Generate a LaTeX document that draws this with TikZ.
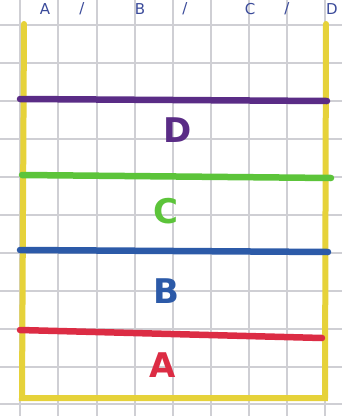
\documentclass[tikz,border=0pt]{standalone}
\usepackage{fontspec}
\setmainfont{DejaVu Sans}
\definecolor{gridc}{HTML}{CFCFD4}
\definecolor{yel}{HTML}{E6D23A}
\definecolor{pur}{HTML}{5A2C86}
\definecolor{grn}{HTML}{5CC43A}
\definecolor{blu}{HTML}{2C5AA8}
\definecolor{rd}{HTML}{DC2C44}
\definecolor{ink}{HTML}{3A4A9A}
\begin{document}
\begin{tikzpicture}[x=1pt,y=-1pt,
  band/.style={line width=6.5pt,line cap=round},
  frame/.style={yel,line width=6pt,line cap=round},
  lbl/.style={font=\fontsize{34}{34}\selectfont\bfseries},
  hdr/.style={font=\fontsize{15}{15}\selectfont,text=ink,inner sep=0pt}]
\useasboundingbox (0,0) rectangle (342,416);
\fill[white] (0,0) rectangle (342,416);
% grid
\foreach \x in {20,58,97,135,173,211,249,287,325} \draw[gridc,line width=1.2pt] (\x,0) -- (\x,416);
\foreach \y in {25,63,101,139,177,215,253,291,329,367,404} \draw[gridc,line width=1.2pt] (0,\y) -- (342,\y);
% header text
\node[hdr] (hA) at (45,9) {A};
\node[hdr] (s1) at (82,9) {/};
\node[hdr] (hB) at (140,9) {B};
\node[hdr] (s2) at (185,9) {/};
\node[hdr] (hC) at (250,9) {C};
\node[hdr] (s3) at (287,9) {/};
\node[hdr] (hD) at (332,9) {D};
% frame
\coordinate (tl) at (24,24);
\coordinate (bl) at (22,398);
\coordinate (br) at (325,398);
\coordinate (tr) at (326,24);
\draw[frame] (tl) -- (bl) -- (br) -- (tr);
% bands
\coordinate (d1) at (20,99); \coordinate (d2) at (327,101);
\coordinate (c1) at (22,175); \coordinate (c2) at (331,178);
\coordinate (b1) at (20,250); \coordinate (b2) at (328,252);
\coordinate (a1) at (20,330); \coordinate (a2) at (322,338);
\draw[band,pur] (d1) -- (d2);
\draw[band,grn] (c1) -- (c2);
\draw[band,blu] (b1) -- (b2);
\draw[band,rd] (a1) -- (a2);
% labels
\node[lbl,text=pur] (D) at (178,130) {D};
\node[lbl,text=grn] (C) at (166,211) {C};
\node[lbl,text=blu] (B) at (166,291) {B};
\node[lbl,text=rd] (A) at (163,365) {A};
\end{tikzpicture}
\end{document}
